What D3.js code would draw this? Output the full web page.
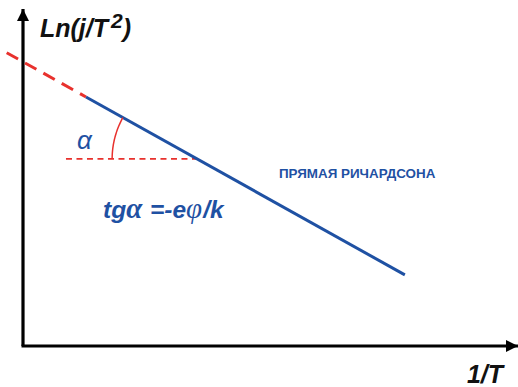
<!DOCTYPE html>
<html>
<head>
<meta charset="utf-8">
<script src="https://cdn.jsdelivr.net/npm/d3@7"></script>
<style>
  html, body { margin: 0; padding: 0; background: #fff; }
  svg { display: block; }
  text { font-family: "Liberation Sans", Arial, sans-serif; }
</style>
</head>
<body>
<svg id="chart" width="518" height="387"></svg>
<script>
// Richardson line: ln(j/T^2) versus 1/T, in arbitrary units (0..100 on both axes)
const lineStart = [12.75, 73.9];    // beginning of the measured (solid) segment
const lineEnd = [77.3, 21.1];       // end of the measured segment
const extrapStartX = -3.3;          // extrapolated (dashed) part reaches back to here
const angleRefStartX = 8.7;         // horizontal reference line for the slope angle
const angleLevelY = 55.5;           // height of the horizontal reference line
const arcRadiusX = 17.2;            // arc radius, in x units

const labels = {
  yAxis: "Ln(j/T",
  yAxisSup: "2",
  xAxis: "1/T",
  line: "ПРЯМАЯ РИЧАРДСОНА",
  angle: "α",
  formulaA: "tg",
  formulaB: "α",
  formulaC: " =-e",
  formulaD: "φ",
  formulaE: "/k"
};

const blue = "#1f51a3";
const red = "#e8312d";

const svg = d3.select("#chart");
const x = d3.scaleLinear().domain([0, 100]).range([23, 517]);
const y = d3.scaleLinear().domain([0, 100]).range([346, 9]);

const slope = (lineEnd[1] - lineStart[1]) / (lineEnd[0] - lineStart[0]);
const lineAt = xv => lineStart[1] + slope * (xv - lineStart[0]);
const vertexX = lineStart[0] + (angleLevelY - lineStart[1]) / slope;

const path = d3.line().x(d => x(d[0])).y(d => y(d[1]));

// arrowheads
const defs = svg.append("defs");
defs.append("marker")
  .attr("id", "arrow")
  .attr("viewBox", "0 0 10 10")
  .attr("refX", 10).attr("refY", 5)
  .attr("markerUnits", "userSpaceOnUse")
  .attr("markerWidth", 14).attr("markerHeight", 12)
  .attr("orient", "auto")
  .append("path")
  .attr("d", "M0,0 L10,5 L0,10 Z")
  .attr("fill", "#000");

// axes
svg.append("path")
  .attr("d", path([[0, 0], [0, 100]]))
  .attr("stroke", "#000").attr("stroke-width", 3.2).attr("fill", "none")
  .attr("marker-end", "url(#arrow)");
svg.append("path")
  .attr("d", path([[-0.3, 0], [100.2, 0]]))
  .attr("stroke", "#000").attr("stroke-width", 3.2).attr("fill", "none")
  .attr("marker-end", "url(#arrow)");

// extrapolated part of the line
svg.append("path")
  .attr("d", path([[extrapStartX, lineAt(extrapStartX)], lineStart]))
  .attr("stroke", red).attr("stroke-width", 3).attr("fill", "none")
  .attr("stroke-dasharray", "13,8");

// horizontal reference for the angle
svg.append("path")
  .attr("d", path([[angleRefStartX, angleLevelY], [vertexX, angleLevelY]]))
  .attr("stroke", red).attr("stroke-width", 1.8).attr("fill", "none")
  .attr("stroke-dasharray", "6,4.5");

// measured line
svg.append("path")
  .attr("d", path([lineStart, lineEnd]))
  .attr("stroke", blue).attr("stroke-width", 3).attr("fill", "none");

// angle arc: from the horizontal (pointing left) up to the line
const vx = x(vertexX), vy = y(angleLevelY);
const r = x(arcRadiusX) - x(0);
let theta = Math.atan2(y(lineAt(vertexX - 10)) - vy, x(vertexX - 10) - vx);
if (theta < 0) theta += 2 * Math.PI;
const arcPts = d3.range(0, 41).map(i => {
  const a = Math.PI + (theta - Math.PI) * i / 40;
  return [vx + r * Math.cos(a), vy + r * Math.sin(a)];
});
svg.append("path")
  .attr("d", d3.line()(arcPts))
  .attr("stroke", red).attr("stroke-width", 1.5).attr("fill", "none");

// texts
const yl = svg.append("text")
  .attr("x", 40).attr("y", 37)
  .attr("font-size", 25).attr("font-weight", "bold").attr("font-style", "italic")
  .attr("fill", "#111");
yl.append("tspan").text(labels.yAxis);
yl.append("tspan").attr("dx", 3).attr("dy", -9).attr("font-size", 21).text(labels.yAxisSup);
yl.append("tspan").attr("dy", 9).text(")");

svg.append("text")
  .attr("x", 503).attr("y", 383).attr("text-anchor", "end")
  .attr("font-size", 25).attr("font-weight", "bold").attr("font-style", "italic")
  .attr("fill", "#111").text(labels.xAxis);

svg.append("text")
  .attr("x", 279).attr("y", 178)
  .attr("font-size", 13.4).attr("font-weight", "bold")
  .attr("fill", blue).text(labels.line);

svg.append("text")
  .attr("x", 77).attr("y", 149)
  .attr("font-size", 26).attr("font-style", "italic")
  .attr("font-family", "'Liberation Serif', serif")
  .attr("fill", blue).text(labels.angle);

const f = svg.append("text")
  .attr("x", 103).attr("y", 218)
  .attr("font-size", 24.5).attr("font-weight", "bold").attr("font-style", "italic")
  .attr("fill", blue);
f.append("tspan").text(labels.formulaA);
f.append("tspan").attr("font-family", "'Liberation Serif', serif").attr("font-weight", "bold").attr("font-size", 29).text(labels.formulaB);
f.append("tspan").attr("dx", 1).text(labels.formulaC);
f.append("tspan").attr("font-family", "'Liberation Serif', serif").attr("font-weight", "normal").attr("font-size", 29).text(labels.formulaD);
f.append("tspan").attr("dx", 1).text(labels.formulaE);
</script>
</body>
</html>
